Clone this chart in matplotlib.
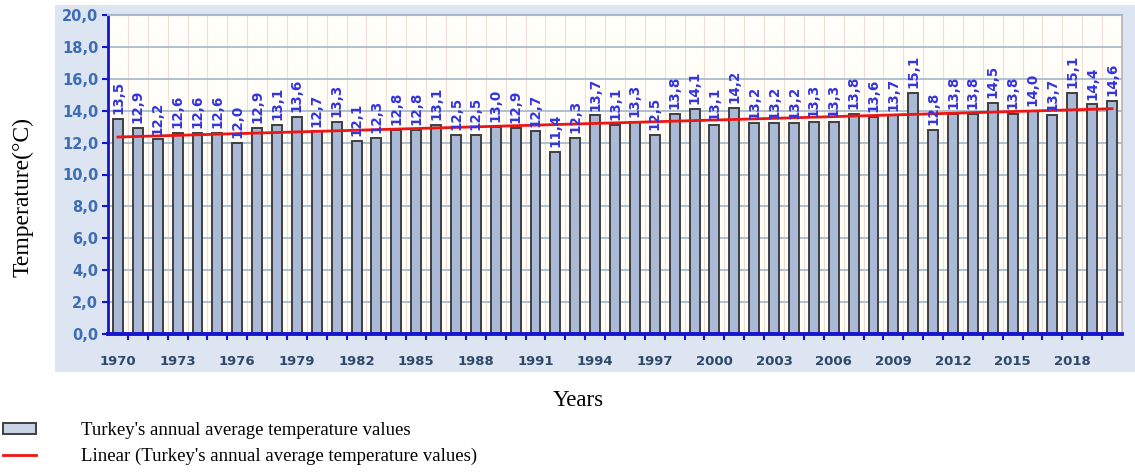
import numpy as np
import matplotlib
matplotlib.use("Agg")
import matplotlib.pyplot as plt
from matplotlib.patches import Rectangle, Patch
from matplotlib.lines import Line2D
from matplotlib.ticker import FixedLocator, FuncFormatter

# Turkey annual average temperature, 1970-2020 (°C)
years = list(range(1970, 2021))
temps = [13.5, 12.9, 12.2, 12.6, 12.6, 12.6, 12.0, 12.9, 13.1, 13.6,
         12.7, 13.3, 12.1, 12.3, 12.8, 12.8, 13.1, 12.5, 12.5, 13.0,
         12.9, 12.7, 11.4, 12.3, 13.7, 13.1, 13.3, 12.5, 13.8, 14.1,
         13.1, 14.2, 13.2, 13.2, 13.2, 13.3, 13.3, 13.8, 13.6, 13.7,
         15.1, 12.8, 13.8, 13.8, 14.5, 13.8, 14.0, 13.7, 15.1, 14.4,
         14.6]
tick_years = list(range(1970, 2019, 3))
y_ticks = list(range(0, 21, 2))

bar_label = "Turkey's annual average temperature values"
trend_label = "Linear (Turkey's annual average temperature values)"

W, H = 1135, 472
fig = plt.figure(figsize=(W / 100, H / 100), dpi=100)
fig.patch.set_facecolor("white")

# light-blue chart panel behind the axes
fig.patches.append(Rectangle((55 / W, 1 - 372 / H), 1 - 55 / W, (372 - 5) / H,
                             transform=fig.transFigure, facecolor="#DCE5F1",
                             edgecolor="none", zorder=-10))

ax = fig.add_axes([108 / W, 1 - 334 / H, (1122 - 108) / W, (334 - 15) / H])
ax.set_zorder(1)
ax.set_facecolor("#FFFEF8")

x = np.arange(len(years))
vals = np.array(temps)

# gridlines
for yv in y_ticks[1:]:
    ax.axhline(yv, color="#A9BCCB", lw=1.3, zorder=1)
for xb in x[:-1] + 0.5:
    ax.axvline(xb, color="#F0DDD5", lw=0.8, zorder=0.5)

ax.bar(x, vals, width=0.5, color="#A9B9D6", edgecolor="#3F3F3F",
       linewidth=1.4, zorder=2)

for xi, v in zip(x, vals):
    ax.text(xi, v + 0.3, f"{v:.1f}".replace(".", ","), rotation=90,
            ha="center", va="bottom", fontsize=9.75, fontweight="bold",
            color="#3434E0", zorder=4)

# linear trend
slope, intercept = np.polyfit(x, vals, 1)
ax.plot([x[0], x[-1]], [intercept, intercept + slope * x[-1]],
        color="#EE1515", lw=2, zorder=3)

ax.set_xlim(-0.5, len(years) - 0.5)
ax.set_ylim(0, 20)

ax.set_yticks(y_ticks)
ax.yaxis.set_major_formatter(FuncFormatter(lambda v, p: f"{v:.1f}".replace(".", ",")))
ax.tick_params(axis="y", direction="out", length=4, width=1.5, color="#1515D0",
               labelsize=10.5, labelcolor="#3D6DB3", pad=3)
for lab in ax.get_yticklabels():
    lab.set_fontweight("bold")

ax.set_xticks([years.index(t) for t in tick_years])
ax.set_xticklabels([str(t) for t in tick_years], fontsize=9.5,
                   fontweight="bold", color="#2F4868")
ax.tick_params(axis="x", which="major", length=0, pad=15)
ax.xaxis.set_minor_locator(FixedLocator(x[:-1] + 0.5))
ax.tick_params(axis="x", which="minor", direction="out", length=4, width=1.5,
               color="#1515D0")

for side, col, lw in [("left", "#1515D0", 2.0), ("bottom", "#1515D0", 2.8),
                      ("top", "#A8B8CC", 1.5), ("right", "#B5B5B5", 1.2)]:
    ax.spines[side].set_color(col)
    ax.spines[side].set_linewidth(lw)

serif = ["Liberation Serif", "DejaVu Serif"]
fig.text(23 / W, 1 - 197 / H, "Temperature(°C)", rotation=90, ha="center",
         va="center", fontsize=17, family=serif)
fig.text(578 / W, 1 - 401 / H, "Years", ha="center", va="center",
         fontsize=16.5, family=serif)

handles = [Patch(facecolor="#C9D3E6", edgecolor="#3F3F3F", linewidth=1.4),
           Line2D([], [], color="#EE1515", lw=2)]
fig.legend(handles, [bar_label, trend_label], loc="upper left",
           bbox_to_anchor=(-14 / W, 1 - 405 / H), frameon=False,
           prop={"family": serif, "size": 13.5}, handlelength=1.75,
           handletextpad=2.4, labelspacing=0.45, handleheight=0.5)

fig.savefig("out.png", dpi=100)
